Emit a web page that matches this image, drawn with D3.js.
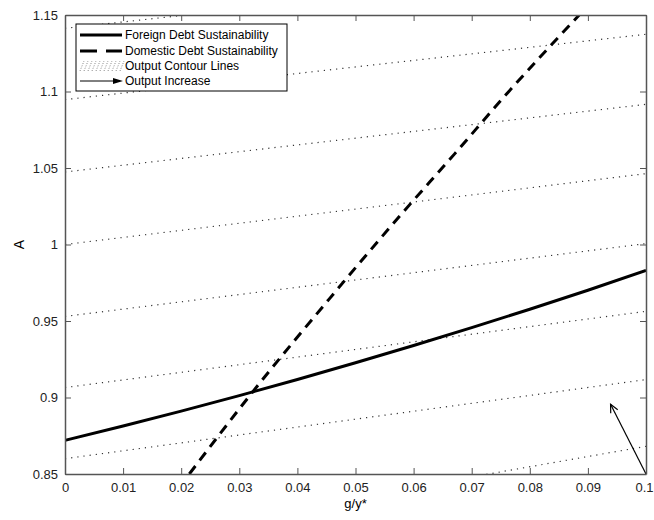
<!DOCTYPE html>
<html lang="en">
<head>
<meta charset="utf-8">
<title>Debt sustainability</title>
<script src="https://d3js.org/d3.v7.min.js"></script>
<style>
  body { margin: 0; background: #fff; }
  .tick text { font-family: "Liberation Sans", Arial, sans-serif; font-size: 13px; fill: #222; }
  .legend text { font-family: "Liberation Sans", Arial, sans-serif; font-size: 12px; fill: #000; }
</style>
</head>
<body>
<script>
// ticks
const xTicks = [0, 0.01, 0.02, 0.03, 0.04, 0.05, 0.06, 0.07, 0.08, 0.09, 0.1];
const xTickLabels = ["0", "0.01", "0.02", "0.03", "0.04", "0.05", "0.06", "0.07", "0.08", "0.09", "0.1"];
const yTicks = [0.85, 0.9, 0.95, 1, 1.05, 1.1, 1.15];
const yTickLabels = ["0.85", "0.9", "0.95", "1", "1.05", "1.1", "1.15"];

// foreign debt sustainability (g/y*, A)
const foreignG = [0, 0.01, 0.02, 0.03, 0.04, 0.05, 0.06, 0.07, 0.08, 0.09, 0.1];
const foreignA = [0.872, 0.8814, 0.8911, 0.9012, 0.9118, 0.9227, 0.934, 0.9457, 0.9577, 0.9701, 0.983];

// domestic debt sustainability
const domesticG = [0.0214, 0.0316, 0.0465, 0.0577, 0.0671, 0.0758, 0.0885];
const domesticA = [0.85, 0.9003, 0.969, 1.019, 1.0594, 1.0975, 1.15];

// output contour lines: A at g=0 and at g=0.1
const contourLeft = [1.1413, 1.0947, 1.0474, 1.0, 0.953, 0.9065, 0.86, 0.8013];
const contourRight = [1.183, 1.1374, 1.0916, 1.0463, 1.0006, 0.9563, 0.9117, 0.8681];

// output increase arrow
const arrowFrom = [0.1, 0.85];
const arrowTo = [0.0939, 0.8956];

const legendLabels = ["Foreign Debt Sustainability", "Domestic Debt Sustainability", "Output Contour Lines", "Output Increase"];

const w = 654, h = 520;
const mLeft = 65, mRight = 646, mTop = 15, mBottom = 474;

const svg = d3.select("body").append("svg")
  .attr("width", w).attr("height", h);

const x = d3.scaleLinear().domain([0, 0.1]).range([mLeft, mRight]);
const y = d3.scaleLinear().domain([0.85, 1.15]).range([mBottom, mTop]);

svg.append("defs").append("clipPath").attr("id", "plotclip")
  .append("rect").attr("x", mLeft).attr("y", mTop)
  .attr("width", mRight - mLeft).attr("height", mBottom - mTop);

const plot = svg.append("g").attr("clip-path", "url(#plotclip)");
const line = d3.line().x(d => x(d[0])).y(d => y(d[1]));
const smooth = d3.line().x(d => x(d[0])).y(d => y(d[1])).curve(d3.curveMonotoneX);

// contour lines
plot.selectAll("path.contour")
  .data(contourLeft.map((a, i) => [[0, a], [0.1, contourRight[i]]]))
  .enter().append("path")
  .attr("class", "contour")
  .attr("d", line)
  .attr("fill", "none")
  .attr("stroke", "#333")
  .attr("stroke-width", 1.2)
  .attr("stroke-dasharray", "1.2,5");

// foreign
plot.append("path")
  .attr("d", smooth(foreignG.map((g, i) => [g, foreignA[i]])))
  .attr("fill", "none").attr("stroke", "#000").attr("stroke-width", 3);

// domestic
plot.append("path")
  .attr("d", smooth(domesticG.map((g, i) => [g, domesticA[i]])))
  .attr("fill", "none").attr("stroke", "#000").attr("stroke-width", 3)
  .attr("stroke-dasharray", "10,7");

// arrow
const ax0 = x(arrowFrom[0]), ay0 = y(arrowFrom[1]);
const ax1 = x(arrowTo[0]), ay1 = y(arrowTo[1]);
const ang = Math.atan2(ay1 - ay0, ax1 - ax0);
const hl = 9, ha = 0.45;
svg.append("line")
  .attr("x1", ax0).attr("y1", ay0).attr("x2", ax1).attr("y2", ay1)
  .attr("stroke", "#000").attr("stroke-width", 1.2);
svg.append("path")
  .attr("d", "M" + (ax1 - hl * Math.cos(ang - ha)) + "," + (ay1 - hl * Math.sin(ang - ha)) +
    "L" + ax1 + "," + ay1 +
    "L" + (ax1 - hl * Math.cos(ang + ha)) + "," + (ay1 - hl * Math.sin(ang + ha)))
  .attr("fill", "none").attr("stroke", "#000").attr("stroke-width", 1.2);

// axes (ticks inside, box)
const axisColor = "#555";
const gx = svg.append("g").attr("transform", "translate(0," + mBottom + ")")
  .call(d3.axisBottom(x).tickValues(xTicks).tickFormat((d, i) => xTickLabels[i]).tickSizeInner(-6).tickSizeOuter(0).tickPadding(9));
const gxt = svg.append("g").attr("transform", "translate(0," + mTop + ")")
  .call(d3.axisTop(x).tickValues(xTicks).tickFormat("").tickSizeInner(-6).tickSizeOuter(0));
const gy = svg.append("g").attr("transform", "translate(" + mLeft + ",0)")
  .call(d3.axisLeft(y).tickValues(yTicks).tickFormat((d, i) => yTickLabels[i]).tickSizeInner(-6).tickSizeOuter(0).tickPadding(8));
const gyr = svg.append("g").attr("transform", "translate(" + mRight + ",0)")
  .call(d3.axisRight(y).tickValues(yTicks).tickFormat("").tickSizeInner(-6).tickSizeOuter(0));
[gx, gxt, gy, gyr].forEach(g => {
  g.select(".domain").attr("stroke", axisColor).attr("stroke-width", 1.5);
  g.selectAll(".tick line").attr("stroke", axisColor);
});
gy.selectAll(".tick text").attr("dx", 1);
// keep the last x label inside the window
gx.selectAll(".tick text").filter((d, i) => i === xTicks.length - 1).attr("dx", -2);

// axis labels
svg.append("text")
  .attr("x", (mLeft + mRight) / 2).attr("y", 508)
  .attr("text-anchor", "middle")
  .style("font-family", "Liberation Sans, Arial, sans-serif").style("font-size", "13px")
  .text("g/y*");
svg.append("text")
  .attr("transform", "translate(24," + ((mTop + mBottom) / 2) + ") rotate(-90)")
  .attr("text-anchor", "middle")
  .style("font-family", "Liberation Sans, Arial, sans-serif").style("font-size", "14px")
  .text("A");

// legend
const lg = svg.append("g").attr("class", "legend");
lg.append("rect").attr("x", 76).attr("y", 24).attr("width", 211).attr("height", 67)
  .attr("fill", "#fff").attr("stroke", "#000").attr("stroke-width", 1);
const rowY = [35, 51, 66, 81];
legendLabels.forEach((t, i) => {
  lg.append("text").attr("x", 125).attr("y", rowY[i]).attr("dy", "0.35em").text(t);
});
lg.append("line").attr("x1", 80).attr("x2", 122).attr("y1", rowY[0]).attr("y2", rowY[0])
  .attr("stroke", "#000").attr("stroke-width", 3);
lg.append("line").attr("x1", 80).attr("x2", 122).attr("y1", rowY[1]).attr("y2", rowY[1])
  .attr("stroke", "#000").attr("stroke-width", 3).attr("stroke-dasharray", "17,9");
// contour swatch: slanted dotted strokes
d3.range(0, 42, 4).forEach(k => {
  lg.append("line")
    .attr("x1", 80 + k).attr("y1", rowY[2] + 5)
    .attr("x2", 84 + k).attr("y2", rowY[2] - 5)
    .attr("stroke", "#666").attr("stroke-width", 0.8).attr("stroke-dasharray", "1,1.5");
});
lg.append("line").attr("x1", 80).attr("x2", 116).attr("y1", rowY[3]).attr("y2", rowY[3])
  .attr("stroke", "#000").attr("stroke-width", 1);
lg.append("path").attr("d", "M113," + (rowY[3] - 3) + "L123," + rowY[3] + "L113," + (rowY[3] + 3) + "Z")
  .attr("fill", "#000");
</script>
</body>
</html>
